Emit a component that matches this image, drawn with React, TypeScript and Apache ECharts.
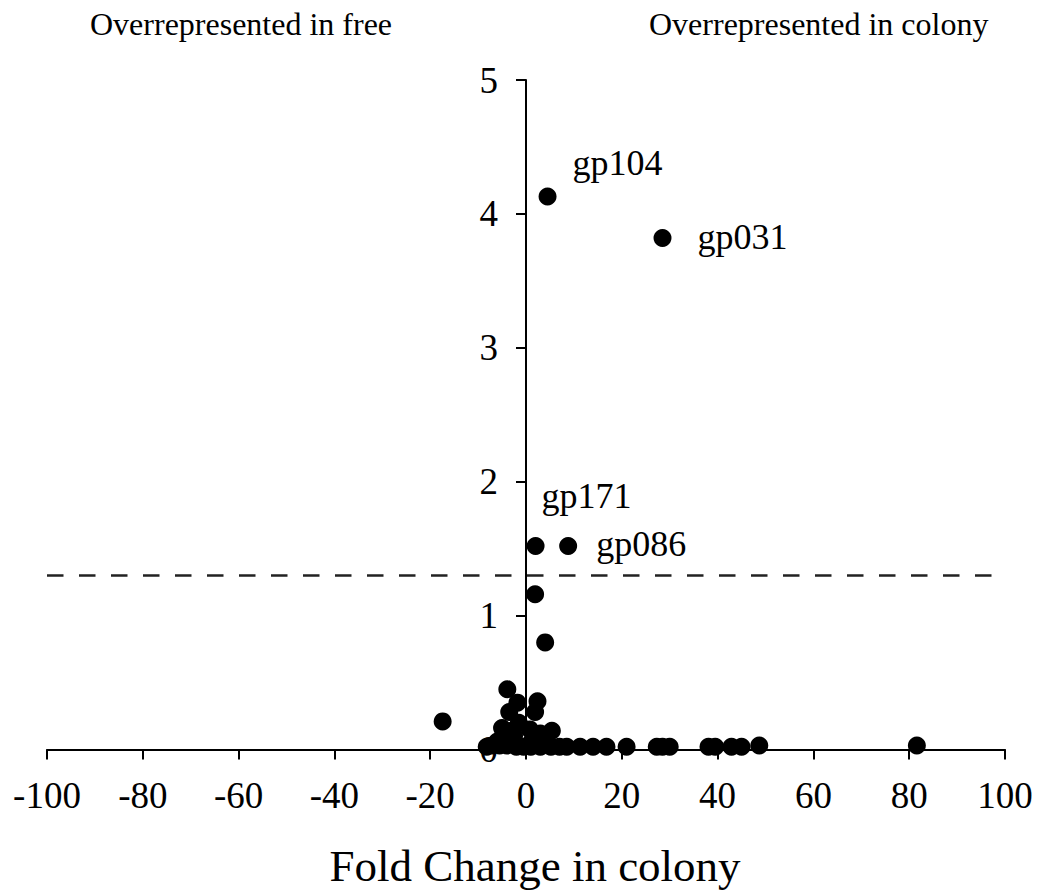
import React, { useEffect, useRef } from "react";
import * as echarts from "echarts";

const xTicks = [-100, -80, -60, -40, -20, 0, 20, 40, 60, 80, 100];
const yTicks = [0, 1, 2, 3, 4, 5];

// labelled genes: fold change, -log10(p)
const labelNames = ["gp104", "gp031", "gp171", "gp086"];
const labelX = [4.5, 28.5, 2.0, 8.8];
const labelY = [4.13, 3.82, 1.52, 1.52];

// other genes
const geneX = [
  1.9, 4.0, -17.4, -3.9, -1.8, -3.5, 2.4, 1.9, -5.0, 5.4, -1.5, 0.8, 2.5, -2.5, 3.5,
  -6.0, -4.6, -3.0, 1.2, 3.0, -8.2, -7.0, -5.5, -4.0, -2.0, -0.5, 1.0, 3.0, 5.2, 7.0,
  8.5, 11.3, 14.0, 16.8, 21.0, 27.3, 28.5, 30.0, 38.1, 39.5, 42.9, 45.0, 48.7, 81.6,
];
const geneY = [
  1.16, 0.8, 0.21, 0.45, 0.35, 0.28, 0.36, 0.28, 0.16, 0.14, 0.2, 0.15, 0.1, 0.1, 0.08,
  0.06, 0.1, 0.14, 0.06, 0.12, 0.02, 0.03, 0.03, 0.03, 0.02, 0.02, 0.02, 0.02, 0.02, 0.02,
  0.02, 0.02, 0.02, 0.02, 0.02, 0.02, 0.02, 0.02, 0.02, 0.02, 0.02, 0.02, 0.03, 0.03,
];

const threshold = 1.3;
const xName = "Fold Change in colony";
const leftNote = "Overrepresented in free";
const rightNote = "Overrepresented in colony";

const FONT = "'Liberation Serif', 'Times New Roman', serif";

const GRID_LEFT = 47;
const GRID_RIGHT = 34;
const W = 1039;

export default function App() {
  const ref = useRef<HTMLDivElement>(null);
  useEffect(() => {
    if (!ref.current) return;
    const chart = echarts.init(ref.current, undefined, { renderer: "svg" });
    const plotW = W - GRID_LEFT - GRID_RIGHT;
    const xMin = xTicks[0];
    const xMax = xTicks[xTicks.length - 1];
    const zeroOffset = ((0 - xMin) / (xMax - xMin)) * plotW;
    const labelOffsets: [number, number][] = [
      [11, -33],
      [21, -1],
      [-8, -50],
      [14, -2],
    ];
    chart.setOption({
      animation: false,
      backgroundColor: "#fff",
      textStyle: { fontFamily: FONT, color: "#000" },
      grid: { left: GRID_LEFT, right: GRID_RIGHT, top: 80, bottom: 145.5 },
      xAxis: {
        type: "value",
        min: xMin,
        max: xMax,
        interval: 20,
        splitLine: { show: false },
        axisLine: { onZero: true, lineStyle: { color: "#000", width: 2 } },
        axisTick: { show: true, inside: false, length: 10, lineStyle: { color: "#000", width: 2 } },
        axisLabel: { fontSize: 37, color: "#000", fontFamily: FONT, margin: 27 },
      },
      yAxis: {
        type: "value",
        position: "left",
        offset: -zeroOffset,
        min: yTicks[0],
        max: yTicks[yTicks.length - 1],
        interval: 1,
        splitLine: { show: false },
        axisLine: { onZero: false, lineStyle: { color: "#000", width: 2 } },
        axisTick: { show: true, inside: false, length: 10, lineStyle: { color: "#000", width: 2 } },
        axisLabel: { fontSize: 37, color: "#000", fontFamily: FONT, margin: 28 },
      },
      series: [
        {
          type: "scatter",
          symbol: "circle",
          symbolSize: 18,
          itemStyle: { color: "#000", opacity: 1 },
          data: geneX.map((x, i) => [x, geneY[i]]),
          markLine: {
            silent: true,
            symbol: "none",
            label: { show: false },
            lineStyle: { color: "#222", width: 2.5, type: [16.5, 15.5] },
            data: [{ yAxis: threshold }],
          },
        },
        {
          type: "scatter",
          symbol: "circle",
          symbolSize: 18,
          itemStyle: { color: "#000", opacity: 1 },
          data: labelNames.map((n, i) => ({
            value: [labelX[i], labelY[i]],
            name: n,
            label: {
              show: true,
              position: "right",
              offset: labelOffsets[i],
              formatter: "{b}",
              fontSize: 36,
              color: "#000",
              fontFamily: FONT,
            },
          })),
        },
      ],
      graphic: [
        {
          type: "text",
          left: 90,
          top: 8,
          style: { text: leftNote, fontSize: 32, fill: "#000", fontFamily: FONT },
        },
        {
          type: "text",
          left: 649,
          top: 8,
          style: { text: rightNote, fontSize: 32, fill: "#000", fontFamily: FONT },
        },
        {
          type: "text",
          x: 535,
          y: 866,
          style: {
            text: xName,
            fontSize: 45,
            fill: "#000",
            fontFamily: FONT,
            align: "center",
            verticalAlign: "middle",
          },
        },
      ],
    });
    return () => chart.dispose();
  }, []);
  return (
    <div
      ref={ref}
      style={{ position: "fixed", left: 0, top: 0, width: W, height: 895, background: "#fff" }}
    />
  );
}
